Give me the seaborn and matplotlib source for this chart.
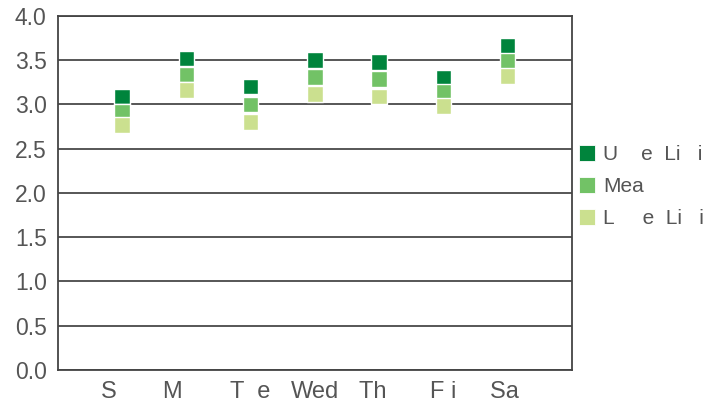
import matplotlib
matplotlib.use("Agg")
import matplotlib.pyplot as plt
import seaborn as sns
import pandas as pd
from matplotlib.lines import Line2D

days = ["S    ", "M    ", "T  e", "Wed", "Th  ", "F i", "Sa "]
upper = [3.09, 3.52, 3.20, 3.50, 3.48, 3.30, 3.66]
mean = [2.92, 3.34, 3.00, 3.31, 3.29, 3.14, 3.49]
lower = [2.77, 3.16, 2.80, 3.12, 3.09, 2.98, 3.32]
series_names = ["U    e  Li   i", "Mea", "L     e  Li   i"]
colors = ["#00843C", "#72C266", "#CBE08F"]
yticks = [0.0, 0.5, 1.0, 1.5, 2.0, 2.5, 3.0, 3.5, 4.0]

rows = []
for name, vals in zip(series_names, [upper, mean, lower]):
    for d, v in zip(days, vals):
        rows.append({"day": d, "value": v, "series": name})
df = pd.DataFrame(rows)

sns.set_style("white")
plt.rcParams["font.family"] = ["Liberation Sans", "DejaVu Sans"]

fig = plt.figure(figsize=(7.13, 4.09), dpi=100)
ax = fig.add_axes([0.081, 0.096, 0.721, 0.865])

ax.set_axisbelow(True)
for y in yticks:
    ax.axhline(y, color="#3a3a3a", lw=1.2, zorder=0)

sns.scatterplot(data=df, x="day", y="value", hue="series", hue_order=series_names,
                palette=colors, marker="s", s=125, edgecolor="white", linewidth=1.0,
                ax=ax, legend=False, zorder=3)

ax.set_xlim(-1, 7)
ax.set_ylim(0, 4.0)
ax.set_yticks(yticks)
ax.set_yticklabels([f"{t:.1f}" for t in yticks])
ax.set_xticks(range(len(days)))
ax.set_xticklabels(days)
ax.set_xlabel("")
ax.set_ylabel("")

ax.tick_params(axis="x", direction="in", length=7, width=1, color="#555555",
               labelsize=17, labelcolor="#555555", pad=8)
ax.tick_params(axis="y", length=0, labelsize=16.5, labelcolor="#555555", pad=8)

for sp in ax.spines.values():
    sp.set_visible(True)
    sp.set_color("#444444")
    sp.set_linewidth(1.3)

handles = [Line2D([], [], marker="s", linestyle="none", markersize=11,
                  markerfacecolor=c, markeredgecolor="white", markeredgewidth=0.6)
           for c in colors]
leg = fig.legend(handles, series_names, loc="center left",
                 bbox_to_anchor=(0.812, 0.543), frameon=False, fontsize=15,
                 handlelength=0.8, handletextpad=0.35, labelspacing=0.62,
                 borderpad=0, borderaxespad=0)
for t in leg.get_texts():
    t.set_color("#555555")

fig.savefig("out.png", dpi=100)
